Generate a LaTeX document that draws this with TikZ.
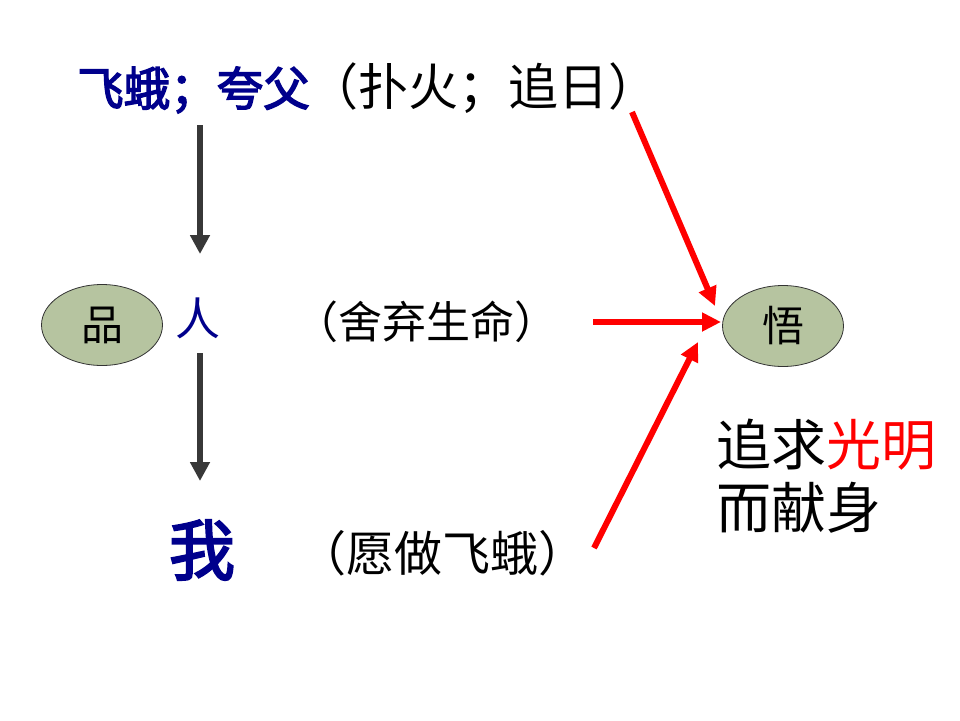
\documentclass[tikz,border=0pt]{standalone}
\usepackage{fontspec}
\setmainfont{Noto Sans CJK SC}
\newfontfamily\fbfont[FakeBold=3]{Noto Sans CJK SC}
\usetikzlibrary{arrows.meta,shapes.geometric}
\definecolor{navy}{RGB}{0,0,140}
\definecolor{ovfill}{RGB}{182,196,160}
\definecolor{darkarrow}{RGB}{56,56,56}
\tikzset{
  txt/.style={inner sep=0pt, anchor=center},
  oval/.style={ellipse, draw=black!80, line width=0.8pt, fill=ovfill, minimum width=121pt, minimum height=81pt, inner sep=0pt},
  grayarr/.style={draw=darkarrow, line width=6pt, -{Triangle[length=19pt,width=19pt]}},
  redarr/.style={draw=red, line width=6pt, -{Triangle[length=19pt,width=18pt]}}
}
\begin{document}
\begin{tikzpicture}[x=1pt,y=-1pt]
\useasboundingbox (0,0) rectangle (960,720);
\fill[white] (0,0) rectangle (960,720);
% top line
\node[txt, anchor=west, text=navy, font=\fontsize{46.5}{46.5}\selectfont\fbfont] (t1) at (77,90) {飞蛾；夸父};
\node[txt, anchor=west, font=\fontsize{50}{50}\selectfont] (t2) at (308,88) {（扑火；追日）};
% ellipses
\node[oval, font=\fontsize{42}{42}\selectfont] (pin) at (102,325) {品};
\node[oval, font=\fontsize{42}{42}\selectfont] (wu) at (783,326) {悟};
\node[txt, text=navy, font=\fontsize{45}{45}\selectfont] (ren) at (198,318) {人};
\node[txt, anchor=west, font=\fontsize{44}{44}\selectfont] (sheqi) at (294,322) {（舍弃生命）};
\node[txt, text=navy, font=\fontsize{66}{66}\selectfont\fbfont] (wo) at (202,550) {我};
\node[txt, anchor=west, font=\fontsize{48}{48}\selectfont] (yuan) at (298,553) {（愿做飞蛾）};
\node[txt, anchor=west, font=\fontsize{55}{55}\selectfont] (zq) at (716,445) {追求\textcolor{red}{光明}};
\node[txt, anchor=west, font=\fontsize{55}{55}\selectfont] (xs) at (716,508) {而献身};
% anchor coordinates
\coordinate (a1s) at (200,125);
\coordinate (a1e) at (200,254);
\coordinate (a2s) at (200,353);
\coordinate (a2e) at (200,481);
\coordinate (r1s) at (632,112);
\coordinate (r1e) at (715,306);
\coordinate (r2s) at (593,322);
\coordinate (r2e) at (721,322);
\coordinate (r3s) at (594,548);
\coordinate (r3e) at (698,342);
\draw[grayarr] (a1s) -- (a1e);
\draw[grayarr] (a2s) -- (a2e);
\draw[redarr] (r1s) -- (r1e);
\draw[redarr] (r2s) -- (r2e);
\draw[redarr] (r3s) -- (r3e);
\end{tikzpicture}
\end{document}
